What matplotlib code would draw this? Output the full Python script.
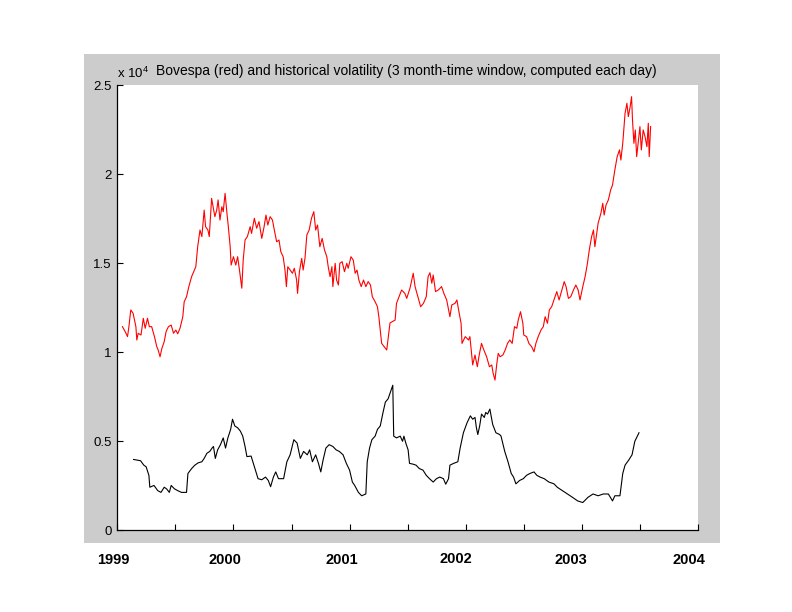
import matplotlib
matplotlib.use("Agg")
import matplotlib.pyplot as plt
from matplotlib.patches import Rectangle

# ---- data (x = trading-day index, y in units of 10^4 points) ----
bov_day = [11, 17, 22, 25, 29, 34, 40, 42, 45, 51, 56, 60, 65, 69, 74, 80, 85, 88, 92, 96,
           101, 105, 110, 116, 121, 126, 130, 135, 141, 144, 149, 154, 160, 166, 169, 173, 178, 182,
           187, 190, 195, 198, 203, 208, 210, 214, 217, 221, 225, 228, 232, 236, 239, 243, 245, 250,
           255, 259, 263, 268, 271, 275, 280, 286, 289, 295, 300, 305, 311, 316, 320, 324, 329, 334,
           338, 343, 348, 352, 357, 361, 364, 367, 372, 377, 381, 386, 388, 392, 397, 400, 404, 408,
           413, 418, 423, 427, 431, 436, 441, 446, 451, 454, 458, 462, 464, 469, 472, 476, 479, 484,
           489, 494, 497, 503, 508, 512, 516, 520, 525, 530, 535, 540, 545, 549, 555, 560, 563,
           569, 580, 587, 598, 601, 612, 619, 623, 630, 637, 641, 646, 653, 659, 665, 669, 673, 677,
           680, 685, 691, 698, 703, 709, 716, 720, 727, 731, 736, 740, 742, 749, 756, 759, 765, 770,
           775, 779, 784, 789, 795, 801, 806, 809, 813, 817, 820, 824, 830, 835, 840, 845, 850, 855,
           860, 863, 868, 873, 875, 881, 886, 892, 897, 901, 906, 912, 917, 921, 926, 930, 935, 940,
           946, 951, 957, 962, 966, 971, 976, 982, 987, 992, 996, 1002, 1007, 1012, 1016, 1021, 1025,
           1028, 1032, 1035, 1041, 1045, 1048, 1052, 1057, 1062, 1066, 1071, 1076, 1081, 1084, 1088,
           1093, 1097, 1100, 1104, 1107, 1109, 1112, 1115, 1118, 1122, 1125, 1128, 1132, 1136, 1140,
           1143, 1145, 1148]
bovespa = [1.144, 1.116, 1.088, 1.144, 1.238, 1.219, 1.144, 1.069, 1.107, 1.097, 1.191, 1.135, 1.191,
           1.144, 1.144, 1.088, 1.031, 1.013, 0.975, 1.022, 1.060, 1.116, 1.144, 1.153, 1.107, 1.125,
           1.104, 1.135, 1.200, 1.284, 1.312, 1.369, 1.425, 1.462, 1.481, 1.593, 1.687, 1.650, 1.799,
           1.706, 1.687, 1.650, 1.865, 1.790, 1.762, 1.799, 1.856, 1.743, 1.818, 1.790, 1.893, 1.781,
           1.706, 1.593, 1.490, 1.537, 1.490, 1.537, 1.462, 1.360, 1.518, 1.631, 1.650, 1.706, 1.668,
           1.753, 1.697, 1.734, 1.640, 1.706, 1.771, 1.715, 1.762, 1.743, 1.687, 1.621, 1.631, 1.565,
           1.537, 1.462, 1.369, 1.481, 1.462, 1.444, 1.472, 1.406, 1.331, 1.453, 1.528, 1.462, 1.528,
           1.659, 1.687, 1.753, 1.790, 1.687, 1.715, 1.593, 1.640, 1.575, 1.537, 1.481, 1.425, 1.481,
           1.369, 1.500, 1.406, 1.378, 1.500, 1.509, 1.453, 1.500, 1.472, 1.537, 1.518, 1.444, 1.462,
           1.406, 1.369, 1.406, 1.369, 1.397, 1.378, 1.312, 1.284, 1.256, 1.200,
           1.050, 1.013, 1.165, 1.181, 1.275, 1.350, 1.331, 1.303, 1.360, 1.444, 1.369, 1.322, 1.256,
           1.275, 1.312, 1.425, 1.447, 1.388, 1.434, 1.341, 1.350, 1.369, 1.331, 1.294, 1.200, 1.266,
           1.275, 1.294, 1.219, 1.163, 1.050, 1.088, 1.069, 1.088, 0.929, 0.985, 0.919, 0.985, 1.050,
           1.013, 0.975, 0.919, 0.929, 0.882, 0.844, 0.938, 0.994, 0.975, 0.985, 1.013, 1.050, 1.069,
           1.050, 1.144, 1.135, 1.181, 1.228, 1.163, 1.097, 1.088, 1.050, 1.031, 1.003, 1.050, 1.088,
           1.125, 1.144, 1.200, 1.163, 1.238, 1.256, 1.294, 1.341, 1.294, 1.350, 1.397, 1.369, 1.303,
           1.312, 1.350, 1.378, 1.350, 1.294, 1.369, 1.425, 1.500, 1.575, 1.650, 1.687, 1.593, 1.668,
           1.725, 1.781, 1.837, 1.771, 1.827, 1.856, 1.912, 1.940, 2.024, 2.099, 2.137, 2.080, 2.174,
           2.343, 2.399, 2.324, 2.380, 2.436, 2.305, 2.174, 2.249, 2.099, 2.193, 2.268, 2.137, 2.249,
           2.212, 2.155, 2.287, 2.099, 2.268]

vol_day = [35, 50, 57, 62, 68, 70, 79, 87, 94, 101, 106, 112, 116, 123, 130, 138, 149, 152, 160, 167,
           174, 182, 187, 193, 199, 204, 207, 211, 216, 222, 228, 233, 238, 244, 248, 253, 259, 265,
           270, 275, 279, 288, 295, 303, 311, 319, 325, 330, 336, 341, 347, 358, 365, 372, 380, 387,
           394, 401, 409, 414, 420, 427, 433, 438, 443, 449, 456, 464, 471, 478, 486, 493, 500, 506,
           511, 519, 526, 535, 538, 543, 548, 555, 560, 566, 572, 577, 583, 588, 593, 595, 601, 609,
           614, 617, 621, 626, 629, 636, 643, 650, 658, 665, 672, 680, 687, 694, 702, 707, 713, 716,
           724, 733, 738, 745, 753, 760, 765, 770, 773, 776, 780, 784, 790, 793, 797, 802, 808, 815,
           823, 826, 834, 841, 848, 853, 858, 866, 874, 881, 888, 897, 903, 910, 919, 929, 940, 947,
           958, 969, 980, 991, 1002, 1013, 1024, 1035, 1046, 1057, 1066, 1071, 1082, 1088, 1093, 1101,
           1108, 1114, 1123]
volatility = [0.398, 0.391, 0.366, 0.357, 0.309, 0.242, 0.252, 0.223, 0.213, 0.242, 0.233, 0.213, 0.252,
              0.233, 0.223, 0.213, 0.213, 0.319, 0.347, 0.366, 0.379, 0.385, 0.404, 0.433, 0.443, 0.462,
              0.471, 0.404, 0.452, 0.481, 0.519, 0.462, 0.519, 0.567, 0.624, 0.586, 0.576, 0.557, 0.529,
              0.471, 0.414, 0.417, 0.357, 0.290, 0.284, 0.299, 0.280, 0.245, 0.299, 0.328, 0.290, 0.290,
              0.385, 0.424, 0.509, 0.490, 0.404, 0.443, 0.424, 0.452, 0.385, 0.424, 0.376, 0.328, 0.395,
              0.462, 0.481, 0.471, 0.452, 0.443, 0.424, 0.376, 0.338, 0.271, 0.252, 0.213, 0.194, 0.204,
              0.385, 0.462, 0.509, 0.529, 0.567, 0.586, 0.662, 0.720, 0.739, 0.777, 0.815, 0.529, 0.519,
              0.529, 0.500, 0.529, 0.490, 0.452, 0.376, 0.372, 0.366, 0.347, 0.338, 0.309, 0.290, 0.271,
              0.290, 0.299, 0.290, 0.259, 0.290, 0.366, 0.376, 0.385, 0.462, 0.548, 0.605, 0.643, 0.624,
              0.634, 0.576, 0.538, 0.586, 0.653, 0.634, 0.662, 0.653, 0.681, 0.595, 0.548, 0.538, 0.529,
              0.443, 0.385, 0.319, 0.299, 0.261, 0.280, 0.290, 0.309, 0.319, 0.328, 0.309, 0.299, 0.290,
              0.271, 0.261, 0.242, 0.223, 0.204, 0.185, 0.165, 0.156, 0.185, 0.204, 0.194, 0.204, 0.204,
              0.165, 0.194, 0.194, 0.319, 0.366, 0.395, 0.424, 0.500, 0.548]

x_ticks = [0, 125, 250, 375, 500, 625, 750, 875, 1000, 1125, 1250]
y_ticks = [0, 0.5, 1, 1.5, 2, 2.5]
y_tick_labels = ["0", "0.5", "1", "1.5", "2", "2.5"]
year_labels = ["1999", "2000", "2001", "2002", "2003", "2004"]
year_label_x = [113, 225, 342, 456, 571, 689]   # pixel centres in the figure
year_label_y = [560, 560, 560, 559, 560, 560]

title = "Bovespa (red) and historical volatility (3 month-time window, computed each day)"

W, H = 792, 612
plt.rcParams['font.family'] = ['Liberation Sans', 'DejaVu Sans']
plt.rcParams['mathtext.fontset'] = 'custom'
plt.rcParams['mathtext.rm'] = 'Liberation Sans'

fig = plt.figure(figsize=(W / 100, H / 100), dpi=100, facecolor='white')
# gray panel behind the axes
fig.patches.append(Rectangle((84 / W, 1 - 543 / H), (720 - 84) / W, (543 - 54) / H,
                             transform=fig.transFigure, facecolor='#cccccc',
                             edgecolor='none', zorder=0))

ax = fig.add_axes([117.3 / W, 1 - 530.3 / H, (698 - 117.3) / W, (530.3 - 85.3) / H])
ax.set_zorder(1)
ax.set_facecolor('white')
ax.plot(bov_day, bovespa, color='#ff0000', lw=0.8)
ax.plot(vol_day, volatility, color='black', lw=0.8)

ax.set_xlim(0, 1250)
ax.set_ylim(0, 2.5)
ax.set_xticks(x_ticks)
ax.set_xticklabels([])
ax.set_yticks(y_ticks)
ax.set_yticklabels(y_tick_labels, fontsize=9.5)
ax.tick_params(direction='in', length=4.5, width=0.8, pad=4, colors='black')
for s in ['top', 'right']:
    ax.spines[s].set_visible(False)
for s in ['left', 'bottom']:
    ax.spines[s].set_linewidth(0.9)

fig.text(406.5 / W, 1 - 71.5 / H, title, ha='center', va='center', fontsize=10, zorder=2)
fig.text(117 / W, 1 - 73 / H, r"x 10$^{4}$", ha='left', va='center', fontsize=9.5, zorder=2)

for lab, xp, yp in zip(year_labels, year_label_x, year_label_y):
    fig.text(xp / W, 1 - yp / H, lab, ha='center', va='center', fontsize=10.5,
             fontweight='bold', zorder=2)

fig.savefig('out.png', dpi=100, facecolor='white')
